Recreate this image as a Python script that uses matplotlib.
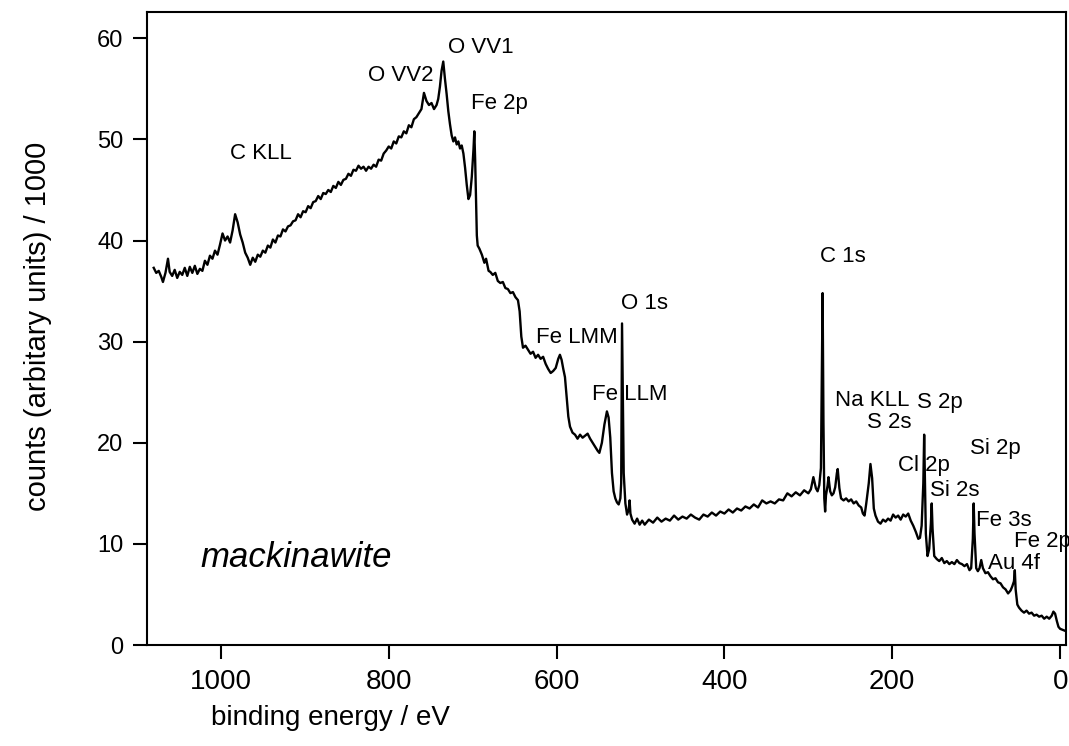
import numpy as np
import matplotlib
matplotlib.use("Agg")
from matplotlib import pyplot as plt
from matplotlib import font_manager

# XPS survey spectrum: (binding energy eV, counts/1000)
seg_ckll = [
    (1080, 37.3), (1077, 36.8), (1074, 37.0), (1071, 36.4), (1069, 35.9),
    (1066, 36.8), (1063, 38.2), (1061, 36.9), (1058, 36.5), (1055, 37.1),
    (1052, 36.3), (1049, 36.9), (1046, 36.6), (1043, 37.3), (1040, 36.5),
    (1037, 37.4), (1034, 36.8), (1031, 37.5), (1028, 36.7), (1025, 37.2),
    (1022, 37.0), (1019, 38.0), (1016, 37.6), (1013, 38.5), (1010, 38.2),
    (1007, 39.0), (1004, 38.6), (1001, 39.6), (998, 40.7), (995, 40.0),
    (992, 40.4), (989, 39.8), (986, 41.0), (983, 42.6), (980, 41.8),
    (977, 40.6), (974, 39.8), (971, 38.8), (968, 38.3), (965, 37.6),
    (962, 38.3), (959, 37.9), (956, 38.6), (953, 38.4), (950, 39.0),
    (947, 38.8), (944, 39.5), (941, 39.3), (938, 40.1), (935, 39.8),
    (932, 40.5), (929, 40.4), (926, 41.1), (923, 40.9), (920, 41.4),
    (917, 41.5), (914, 41.9), (911, 42.0), (908, 42.6), (905, 42.3),
    (902, 42.9), (899, 42.8), (896, 43.4), (893, 43.2), (890, 43.8),
    (887, 43.9), (884, 44.4), (881, 44.1), (878, 44.7),
]

seg_ovv = [
    (875, 44.6), (872, 45.0), (869, 44.8), (866, 45.4), (863, 45.2),
    (860, 45.8), (857, 45.5), (854, 46.0), (851, 46.1), (848, 46.6),
    (845, 46.4), (842, 47.0), (839, 46.9), (836, 47.4), (833, 47.1),
    (830, 47.3), (827, 46.9), (824, 47.3), (821, 47.1), (818, 47.5),
    (815, 47.3), (812, 48.0), (809, 47.9), (806, 48.6), (803, 48.9),
    (800, 49.3), (797, 49.1), (794, 49.8), (791, 49.6), (788, 50.3),
    (785, 50.2), (782, 50.8), (779, 50.6), (776, 51.4), (773, 51.2),
    (770, 52.0), (767, 52.2), (764, 52.6), (761, 53.0), (758, 54.6),
    (755, 53.8), (752, 53.4), (749, 53.6), (746, 53.0), (743, 53.4),
    (741, 54.0), (739, 55.2), (737, 56.8), (735, 57.7), (733, 56.0),
    (731, 54.5), (729, 52.8), (727, 51.5), (725, 50.4), (723, 49.8),
    (721, 50.2), (719, 49.5), (717, 49.8), (715, 49.1), (713, 49.4),
    (711, 48.6), (709, 47.2), (707, 45.5), (705, 44.1), (703, 44.5),
    (701, 46.3), (699, 49.0), (698, 50.8), (697, 48.0), (696, 44.0),
    (695, 40.5), (694, 39.5),
]

seg_fe = [
    (692, 39.2), (689, 38.6), (686, 37.8), (684, 38.2), (681, 37.0),
    (679, 36.9), (676, 36.6), (673, 36.8), (670, 36.0), (667, 35.8),
    (664, 35.9), (661, 35.3), (658, 35.2), (655, 34.8), (652, 34.9),
    (649, 34.4), (646, 34.1), (644, 33.0), (642, 30.5), (640, 29.4),
    (637, 29.6), (634, 29.2), (631, 28.8), (628, 29.0), (625, 28.4),
    (622, 28.7), (619, 28.3), (616, 28.5), (613, 27.8), (610, 27.3),
    (607, 26.9), (604, 27.1), (601, 27.4), (598, 28.3), (596, 28.7),
    (594, 28.2), (592, 27.3), (590, 26.5), (588, 24.5), (586, 22.6),
    (584, 21.6), (581, 21.0), (578, 20.8), (575, 20.4), (572, 20.8),
    (569, 20.5), (566, 20.7), (563, 20.9), (560, 20.4), (557, 20.0),
    (554, 19.6), (551, 19.2), (549, 19.0), (546, 20.0), (543, 21.8),
    (540, 23.1), (538, 22.5), (536, 20.5), (534, 17.0), (532, 15.2),
    (530, 14.5), (528, 14.1), (526, 13.9), (524, 14.5), (523, 16.0),
    (522, 31.8), (521, 24.0), (520, 17.0), (518, 14.0), (516, 12.9),
    (514, 13.4), (513, 14.3), (512, 13.0), (510, 12.4), (507, 12.0),
    (504, 12.5), (501, 11.9),
]

seg_mid = [
    (498, 12.3), (495, 11.9), (490, 12.4), (485, 12.1), (480, 12.6),
    (475, 12.2), (470, 12.5), (465, 12.3), (460, 12.8), (455, 12.4),
    (450, 12.7), (445, 12.5), (440, 12.9), (435, 12.6), (430, 12.4),
    (425, 12.9), (420, 12.7), (415, 13.1), (410, 12.8), (405, 13.2),
    (400, 13.0), (395, 13.4), (390, 13.1), (385, 13.5), (380, 13.3),
    (375, 13.7), (370, 13.5), (365, 13.9), (360, 13.6), (355, 14.3),
    (350, 14.0), (345, 14.2), (340, 14.0), (335, 14.4), (330, 14.3),
    (325, 15.0), (320, 14.7), (315, 15.1), (310, 14.8), (305, 15.3),
    (300, 15.0), (297, 15.4), (294, 16.6), (291, 15.5), (289, 15.2),
    (287, 15.8), (285, 17.5), (284, 26.0), (283, 34.8), (282, 22.0),
    (281, 14.5), (280, 13.2), (279, 14.8), (277, 15.8), (276, 16.6),
    (274, 15.2), (272, 14.8), (270, 15.0), (268, 15.6), (266, 17.0),
    (265, 17.4), (263, 15.5), (261, 14.5), (258, 14.3), (255, 14.5),
    (252, 14.2), (249, 14.4), (246, 14.0), (243, 14.2), (240, 13.8),
    (237, 13.6), (235, 13.0), (233, 12.8), (231, 14.0), (228, 16.0),
    (226, 17.9), (224, 16.5), (222, 13.5), (220, 12.8),
]

seg_low = [
    (217, 12.2), (214, 12.0), (211, 12.4), (208, 12.2), (205, 12.5),
    (202, 12.3), (199, 12.9), (196, 12.6), (193, 12.8), (190, 12.4),
    (187, 12.9), (184, 12.7), (181, 13.0), (178, 12.3), (175, 11.8),
    (172, 11.2), (169, 10.5), (167, 10.6), (165, 11.8), (163, 16.0),
    (162, 20.8), (161, 16.0), (160, 11.0), (158, 8.8), (156, 9.5),
    (154, 12.0), (153, 14.0), (152, 11.5), (150, 8.8), (147, 8.5),
    (144, 8.3), (141, 8.6), (138, 8.1), (135, 8.3), (132, 8.0),
    (129, 8.2), (126, 8.0), (123, 8.4), (120, 8.1), (117, 8.0),
    (114, 7.8), (111, 8.0), (108, 7.4), (106, 7.6), (104, 10.5),
    (103, 14.0), (102, 11.0), (100, 7.6), (98, 7.3), (96, 7.6),
    (94, 8.4), (92, 7.6), (89, 7.1), (86, 7.2), (83, 6.8),
    (80, 6.5), (77, 6.6), (74, 6.2), (71, 6.1), (68, 5.7),
    (65, 5.5), (62, 5.1), (59, 5.4), (57, 5.8), (55, 6.3),
    (54, 7.4), (53, 5.5), (51, 4.0), (49, 3.7), (46, 3.4),
    (43, 3.2), (40, 3.4), (37, 3.1), (34, 3.2), (31, 2.9),
    (28, 3.0), (25, 2.8), (22, 2.9), (19, 2.6), (16, 2.8),
    (13, 2.6), (10, 2.9), (8, 3.3), (6, 3.1), (4, 2.4),
    (2, 1.8), (0, 1.6), (-3, 1.5), (-6, 1.4), (-8, 1.3),
]

# peak labels: text, energy (eV), counts/1000 at the text centre
peak_labels = ["C KLL", "O VV2", "O VV1", "Fe 2p", "Fe LMM", "Fe LLM", "O 1s",
               "C 1s", "Na KLL", "S 2s", "S 2p", "Cl 2p", "Si 2s", "Si 2p",
               "Fe 3s", "Fe 2p", "Au 4f"]
label_ev = [952, 786, 690, 668, 576, 513, 495,
            259, 224, 204, 143, 162, 125, 77.5,
            67, 21.5, 55]
label_counts = [48.6, 56.3, 59.1, 53.6, 30.4, 24.8, 33.8,
                38.4, 24.2, 22.0, 24.0, 17.8, 15.3, 19.4,
                12.3, 10.2, 8.1]

sample_name = "mackinawite"

spectrum = np.array(seg_ckll + seg_ovv + seg_fe + seg_mid + seg_low)
energy = spectrum[:, 0]
counts = spectrum[:, 1]

names = {f.name for f in font_manager.fontManager.ttflist}
narrow = "Liberation Sans Narrow" if "Liberation Sans Narrow" in names else "Liberation Sans"

fig = plt.figure(figsize=(10.69, 7.46), dpi=100)
ax = fig.add_axes([147 / 1069, 101 / 746, 919 / 1069, 633 / 746])

ax.plot(energy, counts, color="black", lw=1.7)

for txt, ex, cy in zip(peak_labels, label_ev, label_counts):
    ax.text(ex, cy, txt, ha="center", va="center", fontsize=16,
            family="Liberation Sans", clip_on=False)

ax.text(910, 8.7, sample_name, ha="center", va="center", fontsize=25,
        style="italic", family="Liberation Sans")

ax.set_xlim(1088, -7)
ax.set_ylim(0, 62.6)
ax.set_xticks([1000, 800, 600, 400, 200, 0])
ax.set_yticks([0, 10, 20, 30, 40, 50, 60])

for s in ax.spines.values():
    s.set_linewidth(1.5)
ax.tick_params(direction="out", length=10, width=1.5)
ax.tick_params(axis="x", pad=7)
ax.tick_params(axis="y", pad=7)
for lab in ax.get_xticklabels():
    lab.set_family(narrow)
    lab.set_fontsize(20)
for lab in ax.get_yticklabels():
    lab.set_family("Liberation Sans")
    lab.set_fontsize(17)

ax.text(0.2, -0.115, "binding energy / eV", transform=ax.transAxes,
        ha="center", va="center", fontsize=20, family=narrow)
fig.text(38 / 1069, 1 - 326 / 746, "counts (arbitary units) / 1000",
         rotation=90, ha="center", va="center", fontsize=21, family=narrow)

fig.savefig("out.png", dpi=100)
